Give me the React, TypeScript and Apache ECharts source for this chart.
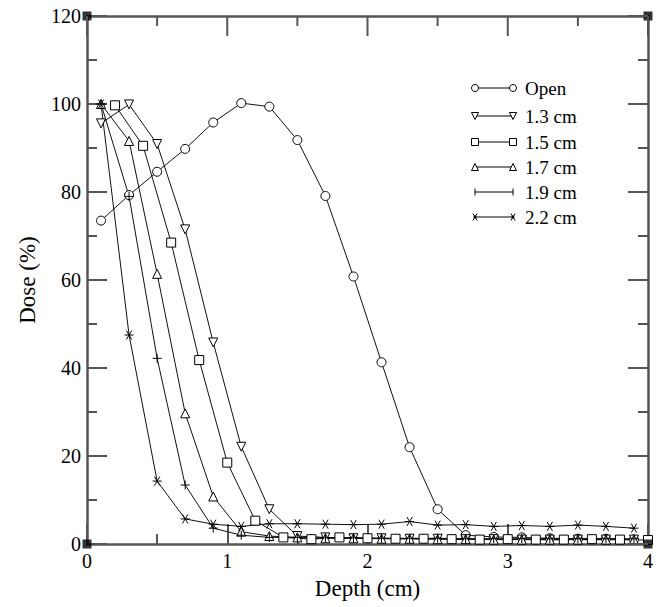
import React, { useEffect, useRef } from "react";
import * as echarts from "echarts";

const seriesNames = ["Open", "1.3 cm", "1.5 cm", "1.7 cm", "1.9 cm", "2.2 cm"];
const depthOdd = [0.1, 0.3, 0.5, 0.7, 0.9, 1.1, 1.3, 1.5, 1.7, 1.9, 2.1, 2.3, 2.5, 2.7, 2.9, 3.1, 3.3, 3.5, 3.7, 3.9];
const depthEven = [0.2, 0.4, 0.6, 0.8, 1.0, 1.2, 1.4, 1.6, 1.8, 2.0, 2.2, 2.4, 2.6, 2.8, 3.0, 3.2, 3.4, 3.6, 3.8, 4.0];
const doseOpen = [73.5, 79.3, 84.6, 89.8, 95.8, 100.2, 99.4, 91.8, 79.1, 60.8, 41.3, 22.0, 7.9, 2.0, 1.6, 1.5, 1.3, 1.2, 1.2, 1.0];
const dose13 = [95.6, 99.9, 90.9, 71.5, 45.8, 22.1, 7.9, 1.8, 1.5, 1.3, 1.3, 1.2, 1.2, 1.1, 1.1, 1.0, 1.0, 1.0, 1.0, 1.0];
const dose15 = [99.7, 90.5, 68.5, 41.8, 18.5, 5.3, 1.5, 1.1, 1.5, 1.3, 1.2, 1.2, 1.1, 1.0, 1.1, 1.0, 1.0, 1.1, 1.0, 0.9];
const dose17 = [100, 91.6, 61.4, 29.7, 10.8, 2.8, 1.8, 1.5, 1.3, 1.3, 1.2, 1.2, 1.1, 1.1, 1.0, 1.0, 1.0, 1.0, 1.0, 1.0];
const dose19 = [100, 79.0, 42.2, 13.4, 3.6, 2.0, 1.5, 1.5, 1.4, 1.4, 1.3, 1.3, 1.3, 1.2, 1.2, 1.2, 1.2, 1.2, 1.2, 1.2];
const dose22 = [100, 47.5, 14.3, 5.7, 4.5, 4.0, 4.6, 4.6, 4.5, 4.4, 4.5, 5.1, 4.3, 4.4, 4.0, 4.2, 4.0, 4.3, 4.0, 3.6];
const xTicks = [0, 1, 2, 3, 4];
const yTicks = [0, 20, 40, 60, 80, 100, 120];

const FONT = "Liberation Serif, Times New Roman, serif";
const AXIS_COLOR = "#555";
const MAJOR_LEN = 20;
const MINOR_LEN = 10;

const SYM = {
  circle: "circle",
  down: "path://M0,0L10,0L5,9Z",
  square: "path://M0,0L10,0L10,10L0,10Z",
  up: "path://M5,0L10,9L0,9Z",
  plus: "path://M0,5L10,5M5,0L5,10",
  star: "path://M0,5L10,5M2,0L8,10M8,0L2,10",
};
const kinds = ["circle", "down", "square", "up", "plus", "star"];

function legendSymbol(kind: string, cx: number, cy: number): any[] {
  const st = { fill: "#fff", stroke: "#000", lineWidth: 1 };
  const r = 3.5;
  if (kind === "circle") return [{ type: "circle", shape: { cx, cy, r }, style: st }];
  if (kind === "down")
    return [{ type: "polygon", shape: { points: [[cx - r, cy - r], [cx + r, cy - r], [cx, cy + r]] }, style: st }];
  if (kind === "up")
    return [{ type: "polygon", shape: { points: [[cx - r, cy + r], [cx + r, cy + r], [cx, cy - r]] }, style: st }];
  if (kind === "square")
    return [{ type: "rect", shape: { x: cx - r, y: cy - r, width: 2 * r, height: 2 * r }, style: st }];
  if (kind === "plus")
    return [
      { type: "line", shape: { x1: cx, y1: cy - r, x2: cx, y2: cy + r }, style: { stroke: "#000", lineWidth: 1 } },
    ];
  return [
    { type: "line", shape: { x1: cx - r * 0.6, y1: cy - r, x2: cx + r * 0.6, y2: cy + r }, style: { stroke: "#000", lineWidth: 1 } },
    { type: "line", shape: { x1: cx + r * 0.6, y1: cy - r, x2: cx - r * 0.6, y2: cy + r }, style: { stroke: "#000", lineWidth: 1 } },
    { type: "circle", shape: { cx, cy, r: 1.5 }, style: { fill: "#000" } },
  ];
}

function withMinor(ticks: number[]): [number, number][] {
  const out: [number, number][] = [];
  ticks.forEach((t, i) => {
    out.push([t, MAJOR_LEN]);
    if (i < ticks.length - 1) out.push([(t + ticks[i + 1]) / 2, MINOR_LEN]);
  });
  return out;
}

export default function App() {
  const ref = useRef<HTMLDivElement>(null);
  useEffect(() => {
    if (!ref.current) return;
    const chart = echarts.init(ref.current, undefined, { renderer: "svg" });
    const dataSets = [
      [depthOdd, doseOpen],
      [depthOdd, dose13],
      [depthEven, dose15],
      [depthOdd, dose17],
      [depthOdd, dose19],
      [depthOdd, dose22],
    ];
    const xMin = xTicks[0];
    const xMax = xTicks[xTicks.length - 1];
    const yMin = yTicks[0];
    const yMax = yTicks[yTicks.length - 1];

    const mkX = (pos: string, main: boolean) => ({
      type: "value",
      position: pos,
      min: xMin,
      max: xMax,
      interval: 1,
      name: main ? "Depth (cm)" : undefined,
      nameLocation: "middle",
      nameGap: 33,
      nameTextStyle: { fontFamily: FONT, fontSize: 23, color: "#000" },
      axisLine: { show: true, onZero: false, lineStyle: { color: AXIS_COLOR, width: 2.5 } },
      axisTick: { show: main, inside: true, length: MAJOR_LEN, lineStyle: { color: AXIS_COLOR, width: 2 } },
      minorTick: { show: main, splitNumber: 2, length: MINOR_LEN, lineStyle: { color: AXIS_COLOR, width: 2 } },
      axisLabel: { show: main, fontFamily: FONT, fontSize: 20, color: "#000", margin: 7 },
      splitLine: { show: false },
    });
    const mkY = (pos: string, main: boolean) => ({
      type: "value",
      position: pos,
      min: yMin,
      max: yMax,
      interval: 20,
      name: main ? "Dose (%)" : undefined,
      nameLocation: "middle",
      nameGap: 48,
      nameTextStyle: { fontFamily: FONT, fontSize: 23, color: "#000" },
      axisLine: { show: true, onZero: false, lineStyle: { color: AXIS_COLOR, width: 2.5 } },
      axisTick: { show: main, inside: true, length: MAJOR_LEN, lineStyle: { color: AXIS_COLOR, width: 2 } },
      minorTick: { show: main, splitNumber: 2, length: MINOR_LEN, lineStyle: { color: AXIS_COLOR, width: 2 } },
      axisLabel: { show: main, fontFamily: FONT, fontSize: 20, color: "#000", margin: 6 },
      splitLine: { show: false },
    });

    const series: any[] = dataSets.map(([xs, ys], i) => ({
      type: "line",
      name: seriesNames[i],
      data: xs.map((x, j) => [x, ys[j]]),
      symbol: SYM[kinds[i] as keyof typeof SYM],
      symbolSize: 9,
      showSymbol: true,
      itemStyle: { color: "#fff", borderColor: "#000", borderWidth: 1 },
      lineStyle: { color: "#111", width: 1 },
      xAxisIndex: 0,
      yAxisIndex: 0,
      z: 3,
    }));
    series.push({
      type: "scatter",
      name: "corners",
      data: [
        [xMin, yMin],
        [xMin, yMax],
        [xMax, yMax],
        [xMax, yMin],
      ],
      symbol: "rect",
      symbolSize: 9,
      itemStyle: { color: "#000" },
      clip: false,
      z: 5,
      silent: true,
    });

    const legendX1 = 475;
    const legendX2 = 513;
    const rowsY = [88, 116, 142, 167, 192, 217];
    const graphics: any[] = [];
    seriesNames.forEach((n, i) => {
      const y = rowsY[i];
      graphics.push({ type: "line", shape: { x1: legendX1, y1: y, x2: legendX2, y2: y }, style: { stroke: "#000", lineWidth: 1 } });
      graphics.push(...legendSymbol(kinds[i], legendX1, y));
      graphics.push(...legendSymbol(kinds[i], legendX2, y));
      graphics.push({
        type: "text",
        x: 525,
        y,
        style: { text: n, fontFamily: FONT, fontSize: 19, fill: "#000", verticalAlign: "middle", align: "left" },
      });
    });

    chart.setOption({
      animation: false,
      backgroundColor: "#fff",
      grid: { left: 87, right: 13, top: 16, bottom: 63, containLabel: false },
      xAxis: [mkX("bottom", true), mkX("top", false)],
      yAxis: [mkY("left", true), mkY("right", false)],
      series,
    });

    // mirrored ticks on the top and right frame, positioned through the chart's own scales
    const tickStyle = { stroke: AXIS_COLOR, lineWidth: 2 };
    const tickGraphics: any[] = [];
    withMinor(xTicks).forEach(([x, len]) => {
      const p = chart.convertToPixel({ xAxisIndex: 0, yAxisIndex: 0 } as any, [x, yMax]) as number[];
      if (p) tickGraphics.push({ type: "line", z: 10, shape: { x1: p[0], y1: p[1], x2: p[0], y2: p[1] + len }, style: tickStyle });
    });
    withMinor(yTicks).forEach(([y, len]) => {
      const p = chart.convertToPixel({ xAxisIndex: 0, yAxisIndex: 0 } as any, [xMax, y]) as number[];
      if (p) tickGraphics.push({ type: "line", z: 10, shape: { x1: p[0], y1: p[1], x2: p[0] - len, y2: p[1] }, style: tickStyle });
    });

    chart.setOption({ graphic: [...graphics, ...tickGraphics] });
    return () => chart.dispose();
  }, []);
  return <div ref={ref} style={{ position: "fixed", left: 0, top: 0, width: 661, height: 607 }} />;
}
